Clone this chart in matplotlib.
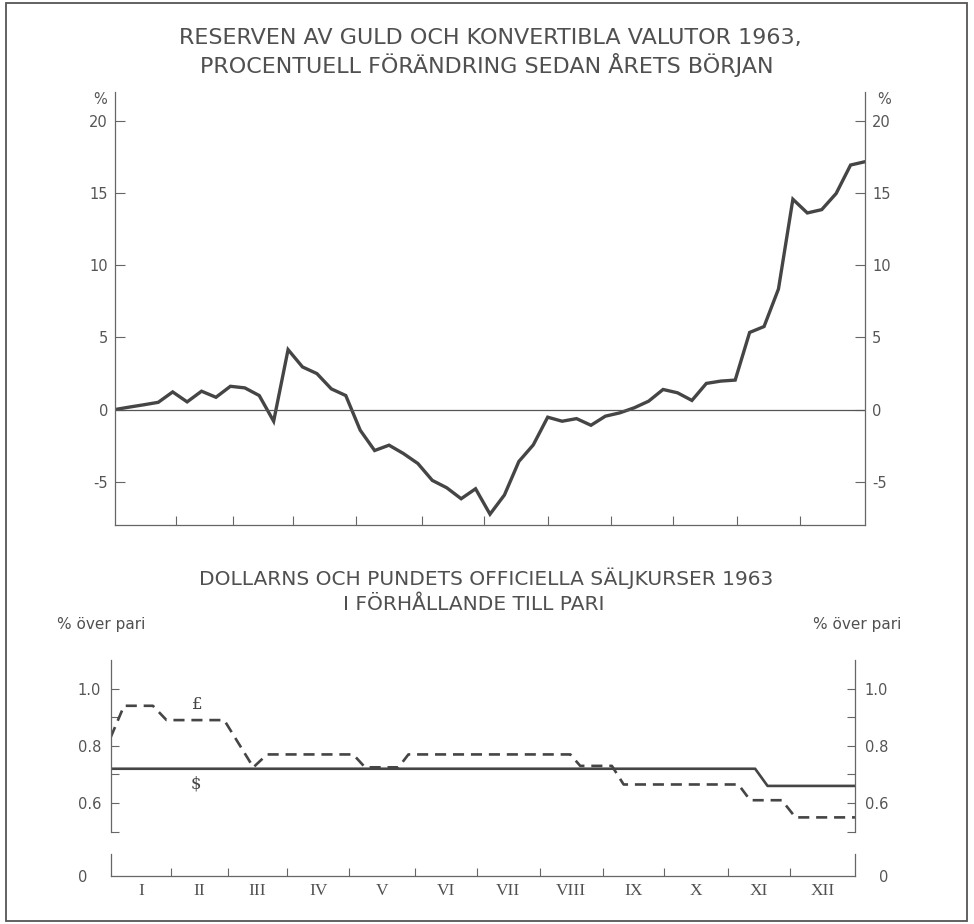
import numpy as np
import matplotlib.pyplot as plt
from matplotlib.patches import Rectangle

# --- data ---
# top chart: weekly reserve change, % since start of year (53 readings)
reserve_pct = [0.0, 0.17, 0.33, 0.5, 1.22, 0.53, 1.27, 0.85, 1.61, 1.5,
               0.97, -0.81, 4.15, 2.95, 2.49, 1.43, 0.97, -1.43, -2.84, -2.47,
               -3.05, -3.74, -4.91, -5.42, -6.18, -5.49, -7.25, -5.92, -3.6, -2.45,
               -0.53, -0.81, -0.63, -1.09, -0.46, -0.23, 0.12, 0.58, 1.39, 1.16,
               0.63, 1.81, 1.97, 2.04, 5.34, 5.75, 8.35, 14.57, 13.62, 13.85,
               14.97, 16.94, 17.17]
weeks = np.arange(len(reserve_pct))

# bottom chart: selling rates, % above parity (x in months from 1 Jan)
pound_x = [0, 0.215, 0.68, 0.90, 1.83, 2.30, 2.52, 3.91, 4.10, 4.64, 4.80,
           7.41, 7.57, 8.08, 8.27, 10.12, 10.31, 10.82, 11.04, 12.0]
pound_y = [0.83, 0.94, 0.94, 0.89, 0.89, 0.725, 0.77, 0.77, 0.725, 0.725, 0.77,
           0.77, 0.73, 0.73, 0.665, 0.665, 0.61, 0.61, 0.55, 0.55]
dollar_x = [0, 10.39, 10.59, 12.0]
dollar_y = [0.72, 0.72, 0.66, 0.66]

month_edges = [0.97, 1.89, 2.84, 3.85, 4.91, 5.9, 6.92, 7.93, 8.92, 9.95, 10.96]
month_names = ['I', 'II', 'III', 'IV', 'V', 'VI', 'VII', 'VIII', 'IX', 'X', 'XI', 'XII']

ink = '#454545'
axc = '#666666'

plt.rcParams['font.family'] = ['DejaVu Sans']
fig = plt.figure(figsize=(9.74, 9.24), dpi=100)
W, H = 974.0, 924.0


def box(x0, y0, x1, y1):
    # pixel box (top-left origin) -> figure fraction rect
    return [x0 / W, 1 - y1 / H, (x1 - x0) / W, (y1 - y0) / H]


# page frame
fig.patches.append(Rectangle((6 / W, 1 - 921 / H), 961 / W, 918 / H,
                             transform=fig.transFigure, fill=False,
                             edgecolor='#555555', lw=1.3))

# ---------------- top chart ----------------
ax = fig.add_axes(box(115, 92, 865, 525))
xm = weeks * 12 / 52
ax.plot(xm, reserve_pct, color=ink, lw=2.4, solid_joinstyle='miter')
ax.axhline(0, color='#555555', lw=0.9)
ax.set_xlim(0, 12)
ax.set_ylim(-8, 22)
ax.set_yticks([-5, 0, 5, 10, 15, 20])
ax.set_yticklabels(['-5', '0', '5', '10', '15', '20'])
ax.tick_params(axis='y', direction='in', left=True, right=True,
               labelleft=True, labelright=True, length=7, width=0.8,
               color=axc, labelcolor='#555555', labelsize=10.5, pad=5)
ax.set_xticks(month_edges)
ax.set_xticklabels([])
ax.tick_params(axis='x', direction='in', length=6.5, width=0.8, color=axc)
ax.spines['top'].set_visible(False)
for s in ['left', 'right', 'bottom']:
    ax.spines[s].set_color(axc)
    ax.spines[s].set_linewidth(0.9)
ax.text(-0.011, 21.45, '%', ha='right', va='center', fontsize=10.5, color='#555555',
        transform=ax.get_yaxis_transform())
ax.text(1.016, 21.45, '%', ha='left', va='center', fontsize=10.5, color='#555555',
        transform=ax.get_yaxis_transform())

fig.text(490 / W, 1 - 38 / H, 'RESERVEN AV GULD OCH KONVERTIBLA VALUTOR 1963,',
         ha='center', va='center', fontsize=16, color='#505050')
fig.text(487 / W, 1 - 65 / H, 'PROCENTUELL FÖRÄNDRING SEDAN ÅRETS BÖRJAN',
         ha='center', va='center', fontsize=16, color='#505050')

# ---------------- bottom chart ----------------
fig.text(486 / W, 1 - 578 / H, 'DOLLARNS OCH PUNDETS OFFICIELLA SÄLJKURSER 1963',
         ha='center', va='center', fontsize=14.5, color='#505050')
fig.text(474 / W, 1 - 604 / H, 'I FÖRHÅLLANDE TILL PARI',
         ha='center', va='center', fontsize=14.5, color='#505050')
fig.text(57 / W, 1 - 624 / H, '% över pari', ha='left', va='center',
         fontsize=11, color='#505050')
fig.text(813 / W, 1 - 624 / H, '% över pari', ha='left', va='center',
         fontsize=11, color='#505050')

bx = fig.add_axes(box(110.7, 660, 855, 831.7))
bx.plot(dollar_x, dollar_y, color=ink, lw=1.9)
bx.plot(pound_x, pound_y, color=ink, lw=1.9, linestyle=(0, (4.2, 2.6)))
bx.set_xlim(0, 12)
bx.set_ylim(0.5, 1.1)
bx.set_yticks([0.6, 0.8, 1.0])
bx.set_yticklabels(['0.6', '0.8', '1.0'])
bx.set_yticks([0.5, 0.7, 0.9], minor=True)
bx.tick_params(axis='y', which='both', direction='in', left=True, right=True,
               labelleft=True, labelright=True, length=6, width=0.8,
               color=axc, labelcolor='#555555', labelsize=10.5, pad=7)
bx.set_xticks([])
for s in ['top', 'bottom']:
    bx.spines[s].set_visible(False)
for s in ['left', 'right']:
    bx.spines[s].set_color(axc)
    bx.spines[s].set_linewidth(0.9)
bx.text(1.39, 0.944, '£', ha='center', va='center', fontsize=12,
        family='DejaVu Serif', color=ink)
bx.text(1.38, 0.667, '$', ha='center', va='center', fontsize=12,
        family='DejaVu Serif', color=ink)

# broken-off zero segment
zx = fig.add_axes(box(110.7, 854, 855, 876))
zx.set_xlim(0, 12)
zx.set_ylim(0, 1)
zx.set_yticks([0])
zx.set_yticklabels(['0'])
zx.tick_params(axis='y', left=True, right=True, labelleft=True, labelright=True,
               length=0, labelcolor='#555555', labelsize=10.5, pad=17)
zx.set_xticks(month_edges)
zx.set_xticklabels([])
zx.tick_params(axis='x', which='major', direction='in', length=6, width=0.8, color=axc)
mids = np.diff([0] + month_edges + [12]) / 2 + np.array([0] + month_edges)
zx.set_xticks(mids, minor=True)
zx.set_xticklabels(month_names, minor=True, family='Liberation Serif',
                   fontsize=12.5, color='#505050')
zx.tick_params(axis='x', which='minor', length=0, pad=5)
zx.spines['top'].set_visible(False)
for s in ['left', 'right', 'bottom']:
    zx.spines[s].set_color(axc)
    zx.spines[s].set_linewidth(0.9)

fig.savefig('out.png', dpi=100, facecolor='white')
